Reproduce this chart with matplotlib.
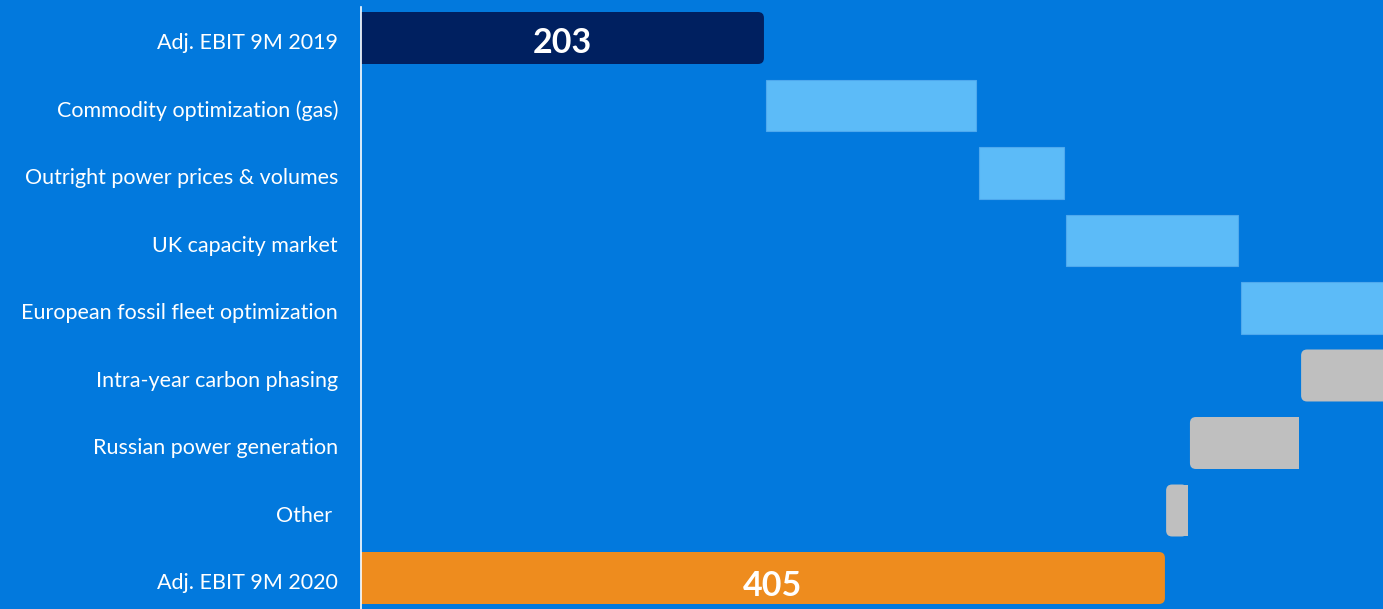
import matplotlib
matplotlib.use("Agg")
import matplotlib.pyplot as plt
import matplotlib.transforms as mtransforms
from matplotlib.patches import FancyBboxPatch

categories = ["Adj. EBIT 9M 2019", "Commodity optimization (gas)",
              "Outright power prices & volumes", "UK capacity market",
              "European fossil fleet optimization", "Intra-year carbon phasing",
              "Russian power generation", "Other ", "Adj. EBIT 9M 2020"]
start_total = 203
deltas = [107, 44, 88, 120, -89, -56, -12]
end_total = 405

BG = "#0279DD"
NAVY = "#002060"
LIGHT = "#5CBBF8"
GRAY = "#BFBFBF"
ORANGE = "#EE8C1E"

plt.rcParams['font.family'] = ['Lato', 'DejaVu Sans']

fig = plt.figure(figsize=(13.83, 6.09), dpi=100, facecolor=BG)
ax = fig.add_axes([361/1383, 0, 1 - 361/1383, 1 - 7/609], facecolor=BG)

H = 0.77
XMAX = 1022/1.985
px_x = XMAX / 1022.0          # data units per pixel in x
px_y = 1.0 / 67.5             # data units per pixel in y
R = 6                          # corner radius in pixels
aspect = px_y / px_x

def rounded_bar(y, left, right, color, round_side):
    lo, hi = min(left, right), max(left, right)
    r = R * px_x
    p = FancyBboxPatch((lo, y - H/2), hi - lo, H,
                       boxstyle=f"round,pad=0,rounding_size={r}",
                       mutation_aspect=aspect, fc=color, ec="none", zorder=2)
    ax.add_patch(p)
    # square off the other side
    if round_side == "right":
        ax.barh(y, (hi - lo) - 2*r, left=lo, height=H, color=color, zorder=2)
    elif round_side == "left":
        ax.barh(y, (hi - lo) - 2*r, left=lo + 2*r, height=H, color=color, zorder=2)

# first total
rounded_bar(0, 0, start_total, NAVY, "right")
ax.text(start_total/2, 0.07, str(start_total), color="white", fontsize=24.5,
        fontweight="bold", ha="center", va="center", zorder=3)

cum = start_total
for i, d in enumerate(deltas, start=1):
    if d >= 0:
        ax.barh(i, d - 1.2, left=cum + 1.2, height=H, color=LIGHT,
                edgecolor="#4FA9EE", linewidth=0.8, zorder=2)
    else:
        rounded_bar(i, cum + d + 0.6, cum - 0.6, GRAY, "left")
    cum += d

n = len(categories) - 1
rounded_bar(n, 0, end_total, ORANGE, "right")
ax.text(end_total/2 + 5, n + 0.12, str(end_total), color="white", fontsize=24.5,
        fontweight="bold", ha="center", va="center", zorder=3)

ax.set_xlim(0, XMAX)
ax.set_ylim(8 + 31/67.5, -31/67.5)
ax.set_yticks(range(len(categories)))
ax.set_yticklabels(categories, color="white", fontsize=15.5)
ax.tick_params(axis="y", length=0, pad=16.5)
shift = mtransforms.ScaledTranslation(0, -3/100, fig.dpi_scale_trans)
for lbl in ax.get_yticklabels():
    lbl.set_transform(lbl.get_transform() + shift)
ax.set_xticks([])
for s in ["top", "right", "bottom"]:
    ax.spines[s].set_visible(False)
ax.spines["left"].set_color("white")
ax.spines["left"].set_linewidth(1.2)
ax.spines["left"].set_zorder(5)

fig.savefig("out.png", dpi=100, facecolor=BG)
